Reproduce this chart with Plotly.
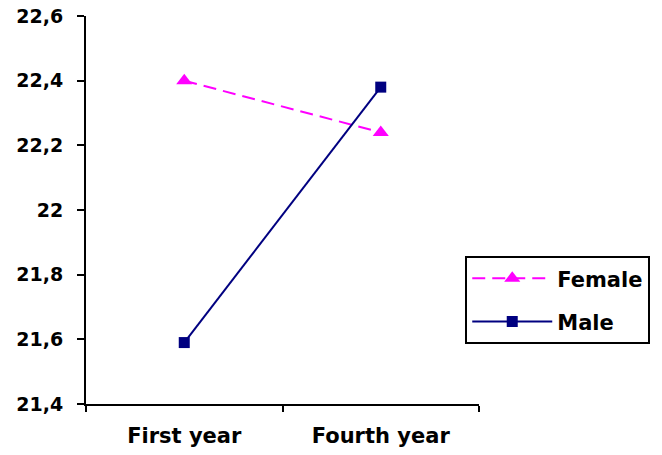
import plotly.graph_objects as go

categories = ["First year", "Fourth year"]
female = [22.40, 22.24]
male = [21.59, 22.38]
y_ticks = [21.4, 21.6, 21.8, 22.0, 22.2, 22.4, 22.6]

fam = "DejaVu Sans, Liberation Sans, Arial, sans-serif"

fig = go.Figure()
fig.add_trace(go.Scatter(
    x=categories, y=female, name="Female", mode="lines+markers", legendgroup="f",
    line=dict(color="#FF00FF", width=2, dash="13px,7px"),
    marker=dict(symbol="triangle-up", size=14, color="#FF00FF"),
))
fig.add_trace(go.Scatter(
    x=categories, y=male, name="Male", mode="lines+markers", legendgroup="m",
    line=dict(color="#000080", width=2),
    marker=dict(symbol="square", size=11, color="#000080"),
))

fig.update_layout(
    width=662, height=455,
    margin=dict(l=86, r=176, t=16, b=51),
    paper_bgcolor="white", plot_bgcolor="white",
    separators=", ",
    font=dict(family=fam, size=20, color="black"),
    showlegend=True,
    legend=dict(
        x=0.965, y=0.381, xanchor="left", yanchor="top",
        bordercolor="black", borderwidth=2, bgcolor="white",
        font=dict(family=fam, size=21, color="black", weight="bold"),
        itemwidth=80, tracegroupgap=13,
    ),
    xaxis=dict(
        type="category", range=[-0.5, 1.5], tickson="boundaries",
        showline=True, linecolor="black", linewidth=2,
        ticks="outside", ticklen=6, tickcolor="black", tickwidth=2,
        showgrid=False, zeroline=False, ticklabelstandoff=12,
        automargin=False,
        tickfont=dict(family=fam, size=21, color="black", weight="bold"),
    ),
    yaxis=dict(
        range=[21.4, 22.6], tickvals=y_ticks,
        showline=True, linecolor="black", linewidth=2,
        ticks="outside", ticklen=7, tickcolor="black", tickwidth=2,
        showgrid=False, zeroline=False, ticklabelstandoff=10,
        ticklabeloverflow="allow", automargin=False,
        tickfont=dict(family=fam, size=19, color="black", weight="bold"),
    ),
)
fig.write_html(
    "out.html",
    config={"displayModeBar": False},
    post_script="document.body.style.margin='0';document.body.style.overflow='hidden';",
)
